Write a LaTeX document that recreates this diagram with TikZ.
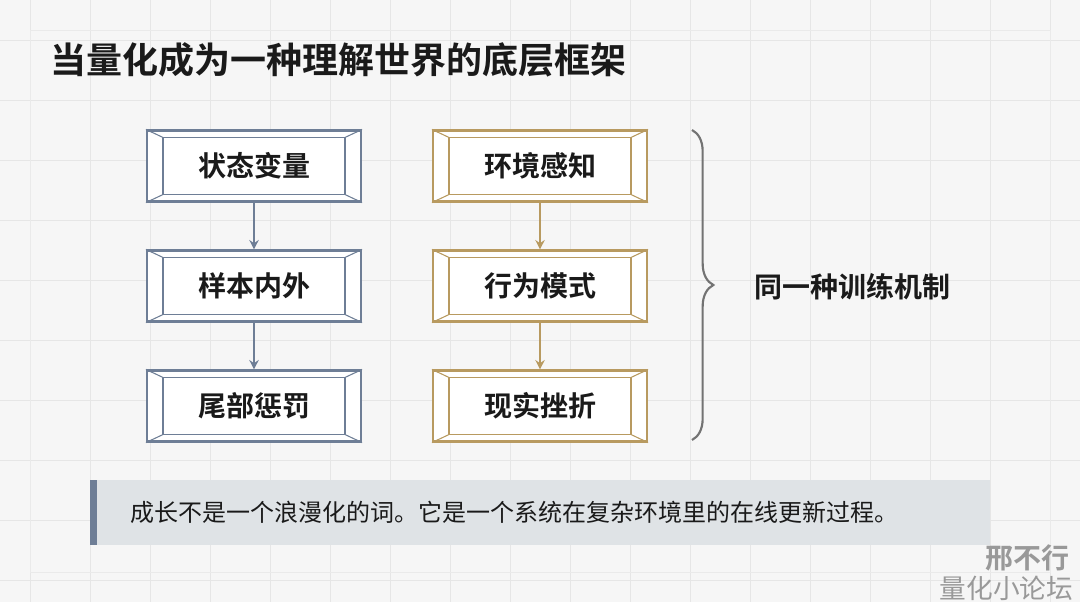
\documentclass[tikz,border=0pt]{standalone}
\usepackage{fontspec}
\setmainfont{Noto Sans CJK SC}
\newfontfamily\cjkb{Noto Sans CJK SC Bold}
\usetikzlibrary{calc,decorations.pathreplacing,arrows.meta}
\definecolor{bg}{HTML}{F6F6F6}
\definecolor{gridc}{HTML}{E6E6E6}
\definecolor{bluec}{HTML}{6E7E96}
\definecolor{goldc}{HTML}{B89A60}
\definecolor{quotebg}{HTML}{DFE3E6}
\definecolor{txt}{HTML}{1A1A1A}
\newcommand{\bevbox}[5]{%
  \node[box,draw=#4] (#1) at (#2,#3) {#5};
  \draw[#4,line width=1pt] ($(#1.north west)+(17,8)$) rectangle ($(#1.south east)+(-17,-8)$);
  \draw[#4,line width=0.8pt] (#1.north west) -- ($(#1.north west)+(17,8)$)
    (#1.north east) -- ($(#1.north east)+(-17,8)$)
    (#1.south west) -- ($(#1.south west)+(17,-8)$)
    (#1.south east) -- ($(#1.south east)+(-17,-8)$);
}
\begin{document}
\begin{tikzpicture}[x=0.75pt,y=-0.75pt,
  box/.style={rectangle,line width=1.6pt,fill=white,minimum width=214*0.75pt,minimum height=71*0.75pt,inner sep=0pt,font=\cjkb\fontsize{21}{24}\selectfont,text=txt},
  arr/.style={-{Stealth[length=7pt,width=7pt]},line width=1.3pt}]
\useasboundingbox (0,0) rectangle (1080,602);
\fill[bg] (0,0) rectangle (1080,602);
\foreach \x in {30,90,...,1080} \draw[gridc,line width=0.5pt] (\x,0) -- (\x,602);
\foreach \y in {40,100,...,602} \draw[gridc,line width=0.5pt] (0,\y) -- (1080,\y);
\draw[gridc!80!black!30,line width=0.6pt] (30,30) rectangle (1050,572);
\node[anchor=west,font=\cjkb\fontsize{27}{31}\selectfont,text=txt] (title) at (46,60) {当量化成为一种理解世界的底层框架};
\bevbox{a1}{254}{166}{bluec}{状态变量}
\bevbox{a2}{254}{286}{bluec}{样本内外}
\bevbox{a3}{254}{406}{bluec}{尾部惩罚}
\bevbox{b1}{540}{166}{goldc}{环境感知}
\bevbox{b2}{540}{286}{goldc}{行为模式}
\bevbox{b3}{540}{406}{goldc}{现实挫折}
\draw[arr,bluec] (a1) -- (a2);
\draw[arr,bluec] (a2) -- (a3);
\draw[arr,goldc] (b1) -- (b2);
\draw[arr,goldc] (b2) -- (b3);
\coordinate (bt) at (692,130);
\coordinate (bb) at (692,440);
\draw[black!55,line width=1.6pt,decorate,decoration={brace,amplitude=16pt}] (bt) -- (bb);
\node[anchor=west,font=\cjkb\fontsize{21}{24}\selectfont,text=txt] (lbl) at (750,287) {同一种训练机制};
\fill[quotebg] (90,480) rectangle (990,545);
\fill[bluec] (90,480) rectangle (97,545);
\node[anchor=west,font=\fontsize{18}{21}\selectfont,text=txt] (q) at (126,512) {成长不是一个浪漫化的词。它是一个系统在复杂环境里的在线更新过程。};
\node[anchor=east,font=\cjkb\itshape\fontsize{21}{24}\selectfont,text=black!40] (w1) at (1074,558) {邢不行};
\node[anchor=east,font=\fontsize{20}{23}\selectfont,text=black!40] (w2) at (1078,588) {量化小论坛};
\end{tikzpicture}
\end{document}
